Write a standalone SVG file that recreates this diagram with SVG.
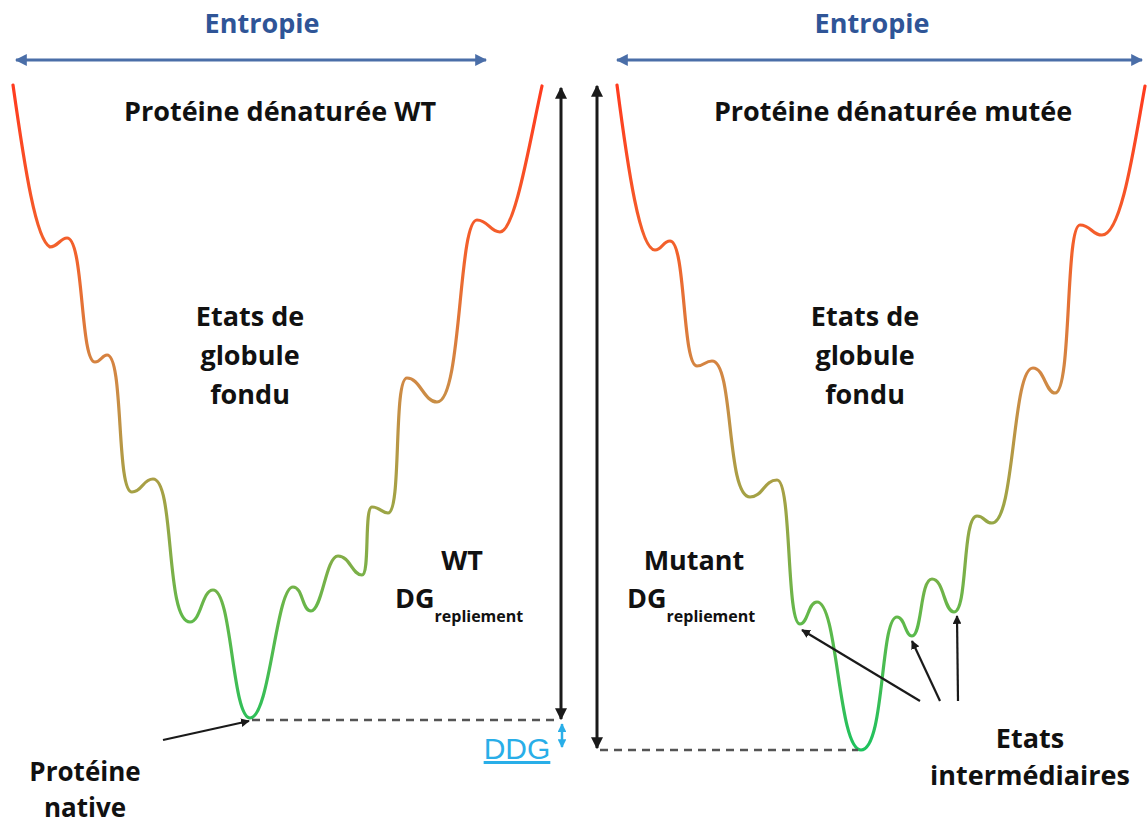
<svg xmlns="http://www.w3.org/2000/svg" width="1148" height="825" viewBox="0 0 1148 825">
<style>
.t{font-family:"Open Sans","Liberation Sans",sans-serif;font-weight:700;fill:#111;text-anchor:middle}
.lbl{font-size:27px}
.sm{font-size:26px}
.ent{font-size:27px;fill:#2f5597}
.sub{font-size:16px}
.curve{fill:none;stroke:url(#grad);stroke-width:3.2;stroke-linecap:round;stroke-linejoin:round}
.blk{stroke:#1a1a1a;stroke-width:3;fill:none}
.thin{stroke-width:2.2}
.dash{stroke:#555;stroke-width:2.5;stroke-dasharray:8 6;fill:none}
.blue{stroke:#4a6ea8;stroke-width:3;fill:none}
</style>
<defs>
<linearGradient id="grad" gradientUnits="userSpaceOnUse" x1="0" y1="85" x2="0" y2="750">
<stop offset="0" stop-color="#ff3b1f"/>
<stop offset="0.25" stop-color="#f2622c"/>
<stop offset="0.45" stop-color="#cf8a45"/>
<stop offset="0.62" stop-color="#a3a245"/>
<stop offset="0.8" stop-color="#62b84a"/>
<stop offset="1" stop-color="#1ec25e"/>
</linearGradient>
<marker id="ab" viewBox="0 0 10 10" refX="9" refY="5" markerWidth="4" markerHeight="4" orient="auto-start-reverse"><path d="M0,0 L10,5 L0,10 z" fill="#4a6ea8"/></marker>
<marker id="ak" viewBox="0 0 10 10" refX="9" refY="5" markerWidth="4" markerHeight="4" orient="auto-start-reverse"><path d="M0,0 L10,5 L0,10 z" fill="#1a1a1a"/></marker>
<marker id="ac" viewBox="0 0 10 10" refX="9" refY="5" markerWidth="3.5" markerHeight="3.5" orient="auto-start-reverse"><path d="M0,0 L10,5 L0,10 z" fill="#29aee8"/></marker>
</defs>
<rect width="1148" height="825" fill="#fff"/>

<g id="curves">
<path class="curve" d="M13,85 C25,170 36,240 50,247 C58,247 60,238 67,238 C84,238 80,362 95,362 C101,362 102,355 107,355 C124,355 116,492 132,492 C142,492 143,479 153,479 C175,479 165,622 190,622 C201,622 202,590 213,590 C232,590 232,718 250,718 C270,718 276,587 293,587 C303,587 302,611 311,611 C322,611 326,556 338,556 C350,556 352,575 362,575 C370,575 364,507 372,507 C380,507 382,513 388,513 C402,513 393,378 407,378 C420,378 424,402 437,402 C462,402 458,220 477,220 C488,220 490,232 500,232 C515,232 530,140 542,86"/>
<path class="curve" d="M617,85 C628,170 640,250 655,250 C662,250 663,241 670,241 C686,241 682,366 697,366 C704,366 705,361 712,361 C734,361 726,497 750,497 C763,497 764,480 777,480 C792,480 786,624 800,624 C808,624 808,602 817,602 C838,602 838,750 861,750 C885,750 880,617 897,617 C905,617 905,636 912,636 C922,636 920,579 932,579 C944,579 944,612 954,612 C968,612 962,516 977,516 C985,516 984,523 992,523 C1015,523 1012,368 1033,368 C1044,368 1046,393 1055,393 C1072,393 1065,225 1080,225 C1091,225 1092,235 1102,235 C1122,235 1135,140 1145,86"/>
</g>

<g id="connectors">
<line class="blue" x1="16" y1="60" x2="486" y2="60" marker-start="url(#ab)" marker-end="url(#ab)"/>
<line class="blue" x1="617" y1="60" x2="1142" y2="60" marker-start="url(#ab)" marker-end="url(#ab)"/>
<line class="blk" x1="561" y1="88" x2="561" y2="719" marker-start="url(#ak)" marker-end="url(#ak)"/>
<line class="blk" x1="597" y1="86" x2="597" y2="748" marker-start="url(#ak)" marker-end="url(#ak)"/>
<line class="dash" x1="252" y1="720" x2="560" y2="720"/>
<line class="dash" x1="600" y1="750" x2="858" y2="750"/>
<line stroke="#29aee8" stroke-width="2.5" x1="562" y1="724" x2="562" y2="747" marker-start="url(#ac)" marker-end="url(#ac)"/>
<line class="blk thin" x1="163" y1="740" x2="249" y2="721" marker-end="url(#ak)"/>
<line class="blk thin" x1="920" y1="701" x2="802" y2="630" marker-end="url(#ak)"/>
<line class="blk thin" x1="940" y1="701" x2="912" y2="641" marker-end="url(#ak)"/>
<line class="blk thin" x1="958" y1="701" x2="957" y2="616" marker-end="url(#ak)"/>
</g>

<g id="entropie-wt"><text class="t ent" x="262" y="33">Entropie</text></g>
<g id="entropie-mut"><text class="t ent" x="872" y="33">Entropie</text></g>
<g id="denat-wt"><text class="t lbl" x="280" y="121">Protéine dénaturée WT</text></g>
<g id="denat-mut"><text class="t lbl" x="893" y="121">Protéine dénaturée mutée</text></g>
<g id="globule-wt"><text class="t lbl" x="250" y="326">Etats de</text><text class="t lbl" x="250" y="365">globule</text><text class="t lbl" x="250" y="404">fondu</text></g>
<g id="globule-mut"><text class="t lbl" x="865" y="326">Etats de</text><text class="t lbl" x="865" y="365">globule</text><text class="t lbl" x="865" y="404">fondu</text></g>
<g id="dg-wt"><text class="t lbl" x="462" y="570">WT</text><text class="t lbl" x="395" y="608" style="text-anchor:start">DG<tspan class="sub" dy="14">repliement</tspan></text></g>
<g id="dg-mut"><text class="t lbl" x="694" y="570">Mutant</text><text class="t lbl" x="627" y="608" style="text-anchor:start">DG<tspan class="sub" dy="14">repliement</tspan></text></g>
<g id="ddg"><text x="517" y="759" style="font-family:'Liberation Sans',Arial,sans-serif;font-size:30px;fill:#29aee8;text-anchor:middle;text-decoration:underline">DDG</text></g>
<g id="native"><text class="t sm" x="85" y="781">Protéine</text><text class="t sm" x="85" y="817">native</text></g>
<g id="intermediaires"><text class="t lbl" x="1030" y="748">Etats</text><text class="t lbl" x="1030" y="785">intermédiaires</text></g>
</svg>
